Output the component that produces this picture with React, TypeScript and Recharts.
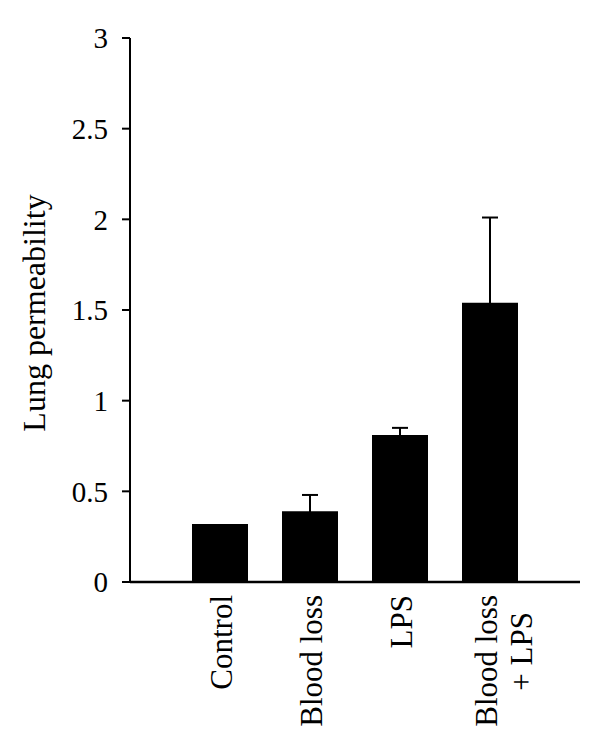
import { BarChart, Bar, XAxis, YAxis, ErrorBar, Label } from "recharts";

const categories = ["Control", "Blood loss", "LPS", "Blood loss\n+ LPS"];
const means = [0.32, 0.39, 0.81, 1.54];
const upperErrors = [0, 0.09, 0.04, 0.47];
const yTicks = [0, 0.5, 1, 1.5, 2, 2.5, 3];

const FONT = '"Liberation Serif", "Times New Roman", serif';

// only the upper whisker is shown; the lower end stays just inside the bar
const chartData = categories.map((name, i) => ({
  name,
  value: means[i],
  err: upperErrors[i] > 0 ? [0.015, upperErrors[i]] : null,
}));

const CategoryTick = (props: any) => {
  const { x, y, payload } = props;
  const lines: string[] = String(payload.value).split("\n");
  const top = y + 13;
  if (lines.length === 1) {
    return (
      <text
        x={x + 12}
        y={top}
        transform={`rotate(-90, ${x + 12}, ${top})`}
        textAnchor="end"
        fontFamily={FONT}
        fontSize={31}
        fill="#000"
      >
        {lines[0]}
      </text>
    );
  }
  return (
    <g>
      <text
        x={x + 7}
        y={top}
        transform={`rotate(-90, ${x + 7}, ${top})`}
        textAnchor="end"
        fontFamily={FONT}
        fontSize={31}
        fill="#000"
      >
        {lines[0]}
      </text>
      <text
        x={x + 42}
        y={top + 17}
        transform={`rotate(-90, ${x + 42}, ${top + 17})`}
        textAnchor="end"
        fontFamily={FONT}
        fontSize={31}
        fill="#000"
      >
        {lines[1]}
      </text>
    </g>
  );
};

const YTitle = () => (
  <text
    x={45}
    y={313}
    transform="rotate(-90, 45, 313)"
    textAnchor="middle"
    fontFamily={FONT}
    fontSize={32}
    fill="#000"
  >
    Lung permeability
  </text>
);

export default function App() {
  return (
    <div style={{ position: "absolute", left: 0, top: 0, background: "#fff" }}>
      <BarChart
        width={600}
        height={747}
        data={chartData}
        margin={{ top: 38, right: 20, left: 0, bottom: 0 }}
        barSize={56}
      >
        <XAxis
          dataKey="name"
          height={165}
          padding={{ left: 45, right: 45 }}
          axisLine={{ stroke: "#000", strokeWidth: 2.5 }}
          tickLine={false}
          tickSize={0}
          tickMargin={0}
          interval={0}
          tick={<CategoryTick />}
        />
        <YAxis
          width={130}
          domain={[0, 3]}
          ticks={yTicks}
          interval={0}
          axisLine={{ stroke: "#000", strokeWidth: 2 }}
          tickLine={{ stroke: "#000", strokeWidth: 2 }}
          tickSize={8}
          tickMargin={14}
          tick={{ fill: "#000", fontSize: 29, fontFamily: FONT }}
        >
          <Label content={<YTitle />} />
        </YAxis>
        <Bar dataKey="value" fill="#000" isAnimationActive={false}>
          <ErrorBar
            dataKey="err"
            width={8}
            stroke="#000"
            strokeWidth={2}
            direction="y"
          />
        </Bar>
      </BarChart>
    </div>
  );
}
